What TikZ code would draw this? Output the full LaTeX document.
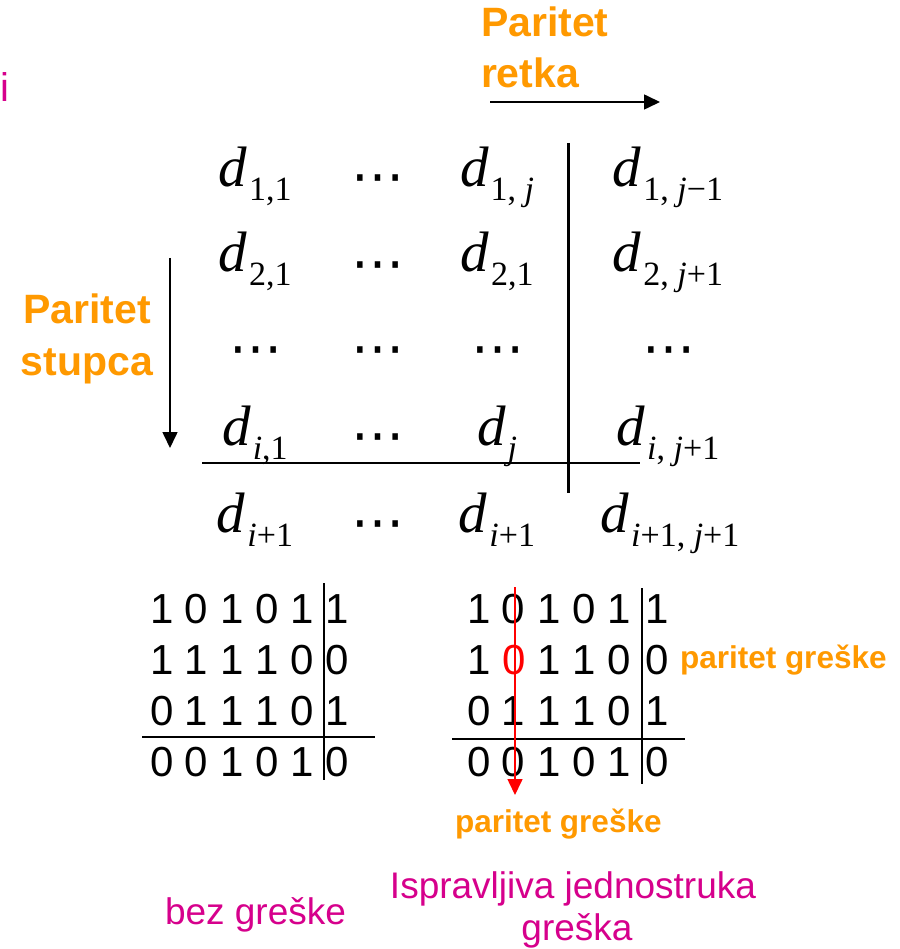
\documentclass[tikz,border=0pt]{standalone}
\usepackage{fontspec}
\setmainfont{Liberation Sans}
\newfontfamily\tms{Liberation Serif}
\newfontfamily\dvs{DejaVu Sans}
\usetikzlibrary{arrows.meta}
\definecolor{parorange}{RGB}{255,153,0}
\definecolor{notemag}{RGB}{214,0,140}
\definecolor{errred}{RGB}{255,0,0}
% d with a lowered subscript, Times-like
\newcommand\dsub[1]{{\fontsize{57}{60}\selectfont\tms\itshape d}\kern2pt\raisebox{-14pt}{\fontsize{34}{36}\selectfont\tms\upshape #1}}
\newcommand\vi{\textit{i}}
\newcommand\vj{\textit{j}}
\newcommand\hdots{⋯}
\begin{document}
\begin{tikzpicture}[x=1pt,y=-1pt,
  every node/.style={inner sep=0pt, outer sep=0pt},
  entry/.style={anchor=base},
  % the dots sit about 23pt above their baseline
  dotsx/.style={anchor=base, yshift=-23pt, font=\dvs\fontsize{53}{54}\selectfont},
  bits/.style={anchor=base west, font=\fontsize{42}{50}\selectfont},
  orangelbl/.style={text=parorange, font=\bfseries\fontsize{41}{50}\selectfont},
  errlbl/.style={text=parorange, anchor=base west, font=\bfseries\fontsize{31.5}{38}\selectfont},
  note/.style={text=notemag, font=\fontsize{37}{42}\selectfont},
  thickrule/.style={line width=3pt},
  rule/.style={line width=2pt},
  flow/.style={line width=1.6pt, -{Triangle[length=16pt,width=15pt]}},
]
\fill[white] (0,0) rectangle (899,949);
\useasboundingbox (0,0) rectangle (899,949);

% cut-off label at the left edge
\node[note, anchor=base west, font=\fontsize{40}{42}\selectfont] (edge) at (0.5,102) {i};

% row parity label and arrow
\node[orangelbl, anchor=base west] (pr1) at (481,37) {Paritet};
\node[orangelbl, anchor=base west] (pr2) at (481,88) {retka};
\coordinate (ra) at (490,102);
\coordinate (rb) at (660,102);
\draw[flow] (ra) -- (rb);

% column parity label and arrow
\node[orangelbl, anchor=base] (pc1) at (87,323) {Paritet};
\node[orangelbl, anchor=base] (pc2) at (87,375) {stupca};
\coordinate (ca) at (170,258);
\coordinate (cb) at (170,448);
\draw[flow] (ca) -- (cb);

% general matrix
\node[entry] (m11) at (255,187) {\dsub{1,1}};
\node[dotsx] (m12) at (378,172) {\hdots};
\node[entry] (m13) at (497,187) {\dsub{1,\ \vj}};
\node[entry] (m14) at (668,187) {\dsub{1,\ \vj−1}};

\node[entry] (m21) at (255,272) {\dsub{2,1}};
\node[dotsx] (m22) at (378,258) {\hdots};
\node[entry] (m23) at (497,272) {\dsub{2,1}};
\node[entry] (m24) at (668,272) {\dsub{2,\ \vj+1}};

\node[dotsx] (m31) at (256,343) {\hdots};
\node[dotsx] (m32) at (378,343) {\hdots};
\node[dotsx] (m33) at (498,343) {\hdots};
\node[dotsx] (m34) at (669,343) {\hdots};

\node[entry] (m41) at (255,445) {\dsub{\vi,1}};
\node[dotsx] (m42) at (378,430) {\hdots};
\node[entry] (m43) at (497,445) {\dsub{\vj}};
\node[entry] (m44) at (668,445) {\dsub{\vi,\ \vj+1}};

\node[entry] (m51) at (255,532) {\dsub{\vi+1}};
\node[dotsx] (m52) at (378,517) {\hdots};
\node[entry] (m53) at (497,532) {\dsub{\vi+1}};
\node[entry] (m54) at (670,532) {\dsub{\vi+1,\ \vj+1}};

\coordinate (mv1) at (568,143);
\coordinate (mv2) at (568,493);
\coordinate (mh1) at (202,463);
\coordinate (mh2) at (640,463);
\draw[thickrule] (mv1) -- (mv2);
\draw[rule] (mh1) -- (mh2);

% example without error
\node[bits] (a1) at (150,623) {1 0 1 0 1};
\node[bits] (a1p) at (325,623) {1};
\node[bits] (a2) at (150,674) {1 1 1 1 0};
\node[bits] (a2p) at (325,674) {0};
\node[bits] (a3) at (150,725) {0 1 1 1 0};
\node[bits] (a3p) at (325,725) {1};
\node[bits] (a4) at (150,776) {0 0 1 0 1};
\node[bits] (a4p) at (325,776) {0};
\coordinate (av1) at (324,583);
\coordinate (av2) at (324,780);
\coordinate (ah1) at (142,737);
\coordinate (ah2) at (375,737);
\draw[rule] (av1) -- (av2);
\draw[rule] (ah1) -- (ah2);

% example with a single correctable error
\node[bits] (b1) at (467,623) {1 0 1 0 1};
\node[bits] (b1p) at (645,623) {1};
\node[bits] (b2) at (467,674) {1 \textcolor{errred}{0} 1 1 0};
\node[bits] (b2p) at (645,674) {0};
\node[bits] (b3) at (467,725) {0 1 1 1 0};
\node[bits] (b3p) at (645,725) {1};
\node[bits] (b4) at (467,776) {0 0 1 0 1};
\node[bits] (b4p) at (645,776) {0};
\coordinate (bv1) at (642,588);
\coordinate (bv2) at (642,784);
\coordinate (bh1) at (452,739);
\coordinate (bh2) at (685,739);
\draw[rule] (bv1) -- (bv2);
\draw[rule] (bh1) -- (bh2);

\coordinate (ea) at (515,587);
\coordinate (eb) at (515,795);
\draw[flow, draw=errred, fill=errred] (ea) -- (eb);

\node[errlbl] (er) at (680,668) {paritet greške};
\node[errlbl] (ec) at (455,832) {paritet greške};

% captions
\node[note, anchor=base west] (cap1) at (165,924) {bez greške};
\node[note, anchor=base] (cap2a) at (573,898) {Ispravljiva jednostruka};
\node[note, anchor=base] (cap2b) at (577,940) {greška};
\end{tikzpicture}
\end{document}
